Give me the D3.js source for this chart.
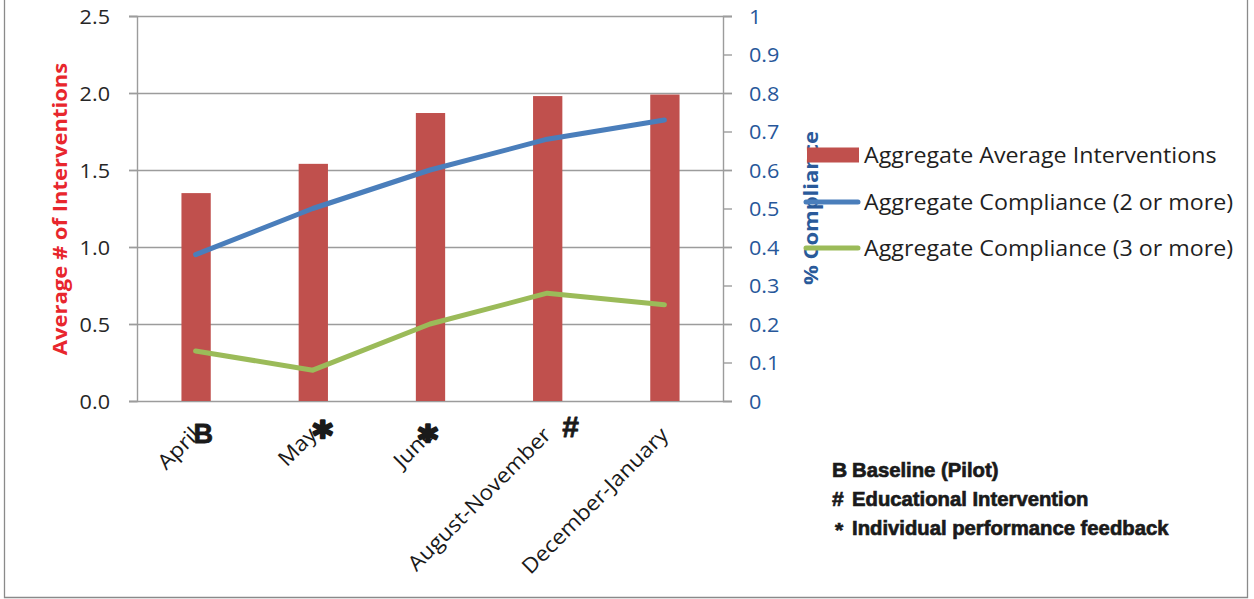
<!DOCTYPE html>
<html><head><meta charset="utf-8">
<script src="https://cdn.jsdelivr.net/npm/d3@7/dist/d3.min.js"></script>
<style>
html,body{margin:0;padding:0;background:#fff;}
svg{display:block;}
</style></head>
<body>
<script>
const categories = ["April","May","June","August-November","December-January"];
const avgInterventions = [1.35,1.54,1.87,1.98,1.99];
const compliance2 = [0.38,0.50,0.60,0.68,0.73];
const compliance3 = [0.13,0.08,0.20,0.28,0.25];
const leftTicks = [0,0.5,1.0,1.5,2.0,2.5];
const rightTicks = [0,0.1,0.2,0.3,0.4,0.5,0.6,0.7,0.8,0.9,1];
const seriesNames = ["Aggregate Average Interventions","Aggregate Compliance (2 or more)","Aggregate Compliance (3 or more)"];
const markers = [{cat:"April",sym:"B"},{cat:"May",sym:"*"},{cat:"June",sym:"*"},{cat:"August-November",sym:"#"}];
const notes = [{sym:"B",text:"Baseline (Pilot)"},{sym:"#",text:"Educational Intervention"},{sym:"*",text:"Individual performance feedback"}];

const W=1254,H=599;
const OPEN="'Open Sans',sans-serif", ARIAL="'Liberation Sans',Arial,sans-serif", DEJAVU="'DejaVu Sans',sans-serif";
const svg=d3.select("body").append("svg").attr("width",W).attr("height",H);
const plot={l:137,r:723,t:16,b:401};
const colors={bar:"#c0504d",blue:"#4a7ebb",green:"#9bbb59",grid:"#9c9c9c"};

function stretch(sel,k){
  sel.each(function(){
    const L=this.getComputedTextLength();
    d3.select(this).attr("textLength",L*k).attr("lengthAdjust","spacingAndGlyphs");
  });
}

// outer frame
svg.append("path").attr("d",`M4.5,-2 V597.5 H1247.5 V-2`).attr("fill","none").attr("stroke","#8a8a8a").attr("stroke-width",1.3);

const x=d3.scaleBand().domain(categories).range([plot.l,plot.r]).padding(0);
const yL=d3.scaleLinear().domain([0,2.5]).range([plot.b,plot.t]);
const yR=d3.scaleLinear().domain([0,1]).range([plot.b,plot.t]);

// gridlines (left axis)
svg.append("g").selectAll("line").data(leftTicks).join("line")
  .attr("x1",plot.l-8).attr("x2",plot.r+9)
  .attr("y1",d=>Math.round(yL(d))+0.5).attr("y2",d=>Math.round(yL(d))+0.5)
  .attr("stroke",colors.grid).attr("stroke-width",1.4);

// left axis
const gL=svg.append("g").attr("transform",`translate(${plot.l},0)`)
  .call(d3.axisLeft(yL).tickValues(leftTicks).tickFormat(d3.format(".1f")).tickSize(8).tickPadding(19));
gL.select(".domain").attr("stroke",colors.grid).attr("stroke-width",1.4);
gL.selectAll(".tick line").attr("stroke",colors.grid).attr("stroke-width",1.4);
gL.selectAll("text").attr("font-size",20).attr("fill","#262626").attr("font-family",OPEN).attr("dy","0.36em").call(stretch,1.08);

// right axis
const gR=svg.append("g").attr("transform",`translate(${plot.r},0)`)
  .call(d3.axisRight(yR).tickValues(rightTicks).tickFormat(d=>d===0||d===1?String(d):d3.format(".1f")(d)).tickSize(9).tickPadding(17));
gR.select(".domain").attr("stroke",colors.grid).attr("stroke-width",1.4);
gR.selectAll(".tick line").attr("stroke",colors.grid).attr("stroke-width",1.4);
gR.selectAll("text").attr("font-size",20).attr("fill","#27579a").attr("font-family",OPEN).attr("dy","0.36em").call(stretch,1.08);

// bars
const bw=x.bandwidth()*0.25;
svg.append("g").selectAll("rect").data(categories).join("rect")
  .attr("x",d=>x(d)+x.bandwidth()/2-bw/2+0.5)
  .attr("width",bw)
  .attr("y",(d,i)=>yL(avgInterventions[i]))
  .attr("height",(d,i)=>plot.b-yL(avgInterventions[i]))
  .attr("fill",colors.bar);

// lines
const cx=d=>x(d)+x.bandwidth()/2;
const line=(vals)=>d3.line().x((d,i)=>cx(categories[i])).y(d=>yR(d))(vals);
svg.append("path").attr("d",line(compliance2)).attr("fill","none").attr("stroke",colors.blue)
  .attr("stroke-width",5).attr("stroke-linecap","round").attr("stroke-linejoin","round");
svg.append("path").attr("d",line(compliance3)).attr("fill","none").attr("stroke",colors.green)
  .attr("stroke-width",5).attr("stroke-linecap","round").attr("stroke-linejoin","round");

// x labels
svg.append("g").selectAll("text").data(categories).join("text")
  .attr("font-family",OPEN).attr("font-size",21).attr("fill","#1a1a1a").attr("text-anchor","end")
  .text(d=>d).call(stretch,1.08)
  .attr("transform",d=>`translate(${cx(d)},${plot.b+30}) rotate(-45)`).attr("dy","0.35em");

// markers near x labels
const markerPos=[[-2,443],[0,448],[-12,452],[15,437]];
svg.append("g").selectAll("text").data(markers).join("text")
  .attr("x",(d,i)=>cx(d.cat)+markerPos[i][0])
  .attr("y",(d,i)=>markerPos[i][1])
  .attr("font-family",d=>d.sym==="*"?DEJAVU:ARIAL).attr("font-weight","bold")
  .attr("font-size",d=>d.sym==="*"?38:(d.sym==="#"?30:27)).attr("fill","#1a1a1a")
  .attr("stroke","#1a1a1a").attr("stroke-width",d=>d.sym==="*"?2.6:0.8).attr("stroke-linejoin","round")
  .text(d=>d.sym);

// axis titles
svg.append("text").attr("transform",`translate(67,209) rotate(-90)`).attr("text-anchor","middle")
  .attr("font-family",OPEN).attr("font-size",20).attr("font-weight","bold").attr("fill","#e8262d")
  .text("Average # of Interventions").call(stretch,1.1);
svg.append("text").attr("transform",`translate(818,208) rotate(-90)`).attr("text-anchor","middle")
  .attr("font-family",OPEN).attr("font-size",20).attr("font-weight","bold").attr("fill","#2a5a9a")
  .text("% Compliance").call(stretch,1.1);

// legend
const lg=svg.append("g");
const legY=[155,202,248];
lg.append("rect").attr("x",807).attr("y",legY[0]-7.5).attr("width",52).attr("height",15).attr("fill",colors.bar);
lg.append("line").attr("x1",806).attr("x2",858).attr("y1",legY[1]).attr("y2",legY[1]).attr("stroke",colors.blue).attr("stroke-width",5).attr("stroke-linecap","round");
lg.append("line").attr("x1",806).attr("x2",858).attr("y1",legY[2]).attr("y2",legY[2]).attr("stroke",colors.green).attr("stroke-width",5).attr("stroke-linecap","round");
lg.selectAll("text").data(seriesNames).join("text")
  .attr("x",864).attr("y",(d,i)=>legY[i]).attr("dy","0.36em")
  .attr("font-family",OPEN).attr("font-size",21.5).attr("fill","#1f1f1f").text(d=>d).call(stretch,1.08);

// notes
const ng=svg.append("g");
const noteY=[477,506,535];
ng.selectAll("text.sym").data(notes).join("text").attr("class","sym")
  .attr("font-family",ARIAL).attr("font-weight","bold").attr("fill","#1a1a1a")
  .attr("stroke","#1a1a1a").attr("stroke-width",0.7)
  .attr("x",(d)=>d.sym==="*"?835:832).attr("y",(d,i)=>noteY[i]+(d.sym==="*"?2:0))
  .attr("font-size",21).text(d=>d.sym);
ng.selectAll("text.txt").data(notes).join("text").attr("class","txt")
  .attr("font-family",ARIAL).attr("font-weight","bold").attr("fill","#1a1a1a")
  .attr("stroke","#1a1a1a").attr("stroke-width",0.7)
  .attr("x",852).attr("y",(d,i)=>noteY[i])
  .attr("font-size",21).text(d=>d.text).call(stretch,0.965);
</script>
</body></html>
